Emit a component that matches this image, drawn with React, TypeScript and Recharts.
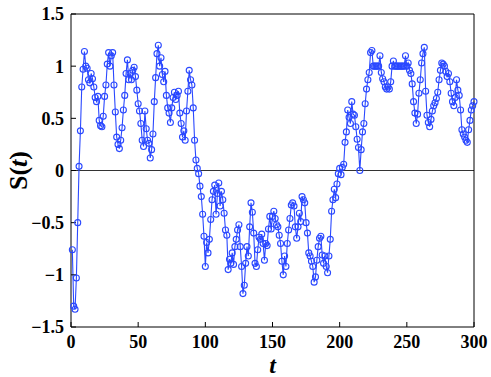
import { LineChart, Line, XAxis, YAxis, ReferenceLine } from 'recharts';

// S(t), t = 1..300
const sValues = [
  -0.76, -1.3, -1.33, -1.03, -0.5, 0.04, 0.38, 0.8, 0.97, 1.14,
  1.0, 0.98, 0.87, 0.84, 0.93, 0.88, 0.8, 0.7, 0.66, 0.71,
  0.48, 0.43, 0.42, 0.52, 0.71, 0.82, 1.02, 1.13, 1.0, 1.1,
  1.13, 0.82, 0.56, 0.32, 0.25, 0.21, 0.29, 0.41, 0.58, 0.72,
  0.93, 1.06, 0.87, 0.93, 0.87, 0.96, 0.99, 0.9, 0.77, 0.64,
  0.57, 0.45, 0.29, 0.23, 0.57, 0.4, 0.29, 0.26, 0.12, 0.2,
  0.35, 0.66, 0.89, 1.12, 1.2, 1.0, 1.08, 0.92, 0.85, 0.95,
  0.72, 0.6, 0.55, 0.46, 0.6, 0.7, 0.75, 0.68, 0.72, 0.76,
  0.55, 0.45, 0.32, 0.38, 0.29, 0.57, 0.76, 0.96, 0.87, 0.82,
  0.6, 0.29, 0.1, 0.02, -0.03, -0.15, -0.25, -0.42, -0.63, -0.92,
  -0.69, -0.79, -0.66, -0.47, -0.28, -0.2, -0.14, -0.42, -0.22, -0.12,
  -0.34, -0.2, -0.28, -0.41, -0.57, -0.62, -0.95, -0.85, -0.89, -0.79,
  -0.9, -0.73, -0.66, -0.57, -0.52, -0.73, -0.92, -1.18, -1.1, -0.89,
  -0.73, -0.82, -0.54, -0.31, -0.4, -0.6, -0.89, -0.92, -0.76, -0.64,
  -0.66, -0.61, -0.7, -0.86, -0.7, -0.72, -0.56, -0.44, -0.56, -0.44,
  -0.39, -0.46, -0.52, -0.54, -0.62, -0.7, -0.87, -1.0, -0.82, -0.92,
  -0.7, -0.57, -0.46, -0.33, -0.31, -0.34, -0.54, -0.65, -0.54, -0.41,
  -0.49, -0.25, -0.28, -0.31, -0.5, -0.6, -0.79, -0.82, -0.87, -0.92,
  -1.07, -1.02, -0.86, -0.73, -0.65, -0.63, -0.81, -0.89, -0.82, -0.92,
  -0.98, -0.82, -0.66, -0.39, -0.28, -0.18, -0.26, -0.13, -0.03, 0.02,
  -0.04, 0.03, 0.06, 0.27, 0.37, 0.58, 0.51, 0.45, 0.66, 0.54,
  0.53, 0.42, 0.3, 0.22, 0.0, 0.2, 0.37, 0.45, 0.64, 0.78,
  0.87, 0.94, 1.13, 1.15, 1.0, 1.0, 1.0, 1.0, 1.0, 1.1,
  0.94, 0.88, 0.85, 0.8, 0.78, 0.8, 0.78, 0.85, 1.0, 1.05,
  1.0, 1.0, 1.0, 1.0, 1.0, 1.0, 1.0, 1.0, 1.1, 1.0,
  1.03, 0.96, 0.93, 0.83, 0.66, 0.55, 0.45, 0.54, 0.74, 0.87,
  1.03, 1.12, 1.18, 0.76, 0.53, 0.46, 0.42, 0.49, 0.57, 0.62,
  0.65, 0.69, 0.75, 0.87, 0.96, 1.03, 1.02, 1.0, 0.95, 0.9,
  0.93, 0.85, 0.74, 0.66, 0.62, 0.7, 0.87, 0.77, 0.72, 0.58,
  0.39, 0.35, 0.32, 0.29, 0.27, 0.39, 0.48, 0.58, 0.62, 0.66,
];

const xTicks = [0, 50, 100, 150, 200, 250, 300];
const yTicks = [-1.5, -1, -0.5, 0, 0.5, 1, 1.5];

const data = sValues.map((s, i) => ({ t: i + 1, s }));

const SERIF = '"Liberation Serif", "Times New Roman", serif';
const BLUE = '#2a48ff';

const fmt = (v: number) => (v < 0 ? `\u2212${Math.abs(v)}` : `${v}`);

const tickStyle = { fontSize: 18, fontWeight: 'bold', fontFamily: SERIF, fill: '#000' };

function YLabel(props: any) {
  const vb = props.viewBox || {};
  // axis line sits on the right edge of the left axis box
  const cx = vb.x + vb.width - 44;
  const cy = vb.y + vb.height / 2;
  return (
    <text
      x={cx}
      y={cy}
      transform={`rotate(-90 ${cx} ${cy})`}
      textAnchor="middle"
      fontFamily={SERIF}
      fontWeight="bold"
      fontSize={26}
      fill="#000"
    >
      S(<tspan fontStyle="italic">t</tspan>)
    </text>
  );
}

function XLabel(props: any) {
  const vb = props.viewBox || {};
  return (
    <text
      x={vb.x + vb.width / 2}
      y={vb.y + 46}
      textAnchor="middle"
      fontFamily={SERIF}
      fontWeight="bold"
      fontStyle="italic"
      fontSize={24}
      fill="#000"
    >
      t
    </text>
  );
}

export default function App() {
  return (
    <div style={{ position: 'absolute', left: 0, top: 0, background: '#fff' }}>
      <LineChart width={491} height={377} data={data} margin={{ top: 13, right: 16, bottom: 0, left: 11 }}>
        <XAxis
          dataKey="t"
          type="number"
          domain={[0, 300]}
          ticks={xTicks}
          tickFormatter={fmt}
          tick={tickStyle}
          tickSize={-5}
          tickMargin={13}
          height={50}
          axisLine={{ stroke: '#000' }}
          tickLine={{ stroke: '#000' }}
          label={<XLabel />}
        />
        <XAxis
          xAxisId="top"
          orientation="top"
          dataKey="t"
          type="number"
          domain={[0, 300]}
          ticks={xTicks}
          tick={false}
          tickSize={-5}
          height={1}
          axisLine={{ stroke: '#000' }}
          tickLine={{ stroke: '#000' }}
        />
        <YAxis
          type="number"
          domain={[-1.5, 1.5]}
          ticks={yTicks}
          tickFormatter={fmt}
          tick={tickStyle}
          tickSize={-5}
          tickMargin={12}
          width={60}
          axisLine={{ stroke: '#000' }}
          tickLine={{ stroke: '#000' }}
          label={<YLabel />}
        />
        <YAxis
          yAxisId="right"
          orientation="right"
          type="number"
          domain={[-1.5, 1.5]}
          ticks={yTicks}
          tick={false}
          tickSize={-5}
          width={1}
          axisLine={{ stroke: '#000' }}
          tickLine={{ stroke: '#000' }}
        />
        <ReferenceLine y={0} stroke="#333" strokeWidth={1} />
        <Line
          dataKey="s"
          stroke={BLUE}
          strokeWidth={1.1}
          dot={{ r: 3, stroke: BLUE, strokeWidth: 1.1, fill: 'none' }}
          isAnimationActive={false}
        />
      </LineChart>
    </div>
  );
}
